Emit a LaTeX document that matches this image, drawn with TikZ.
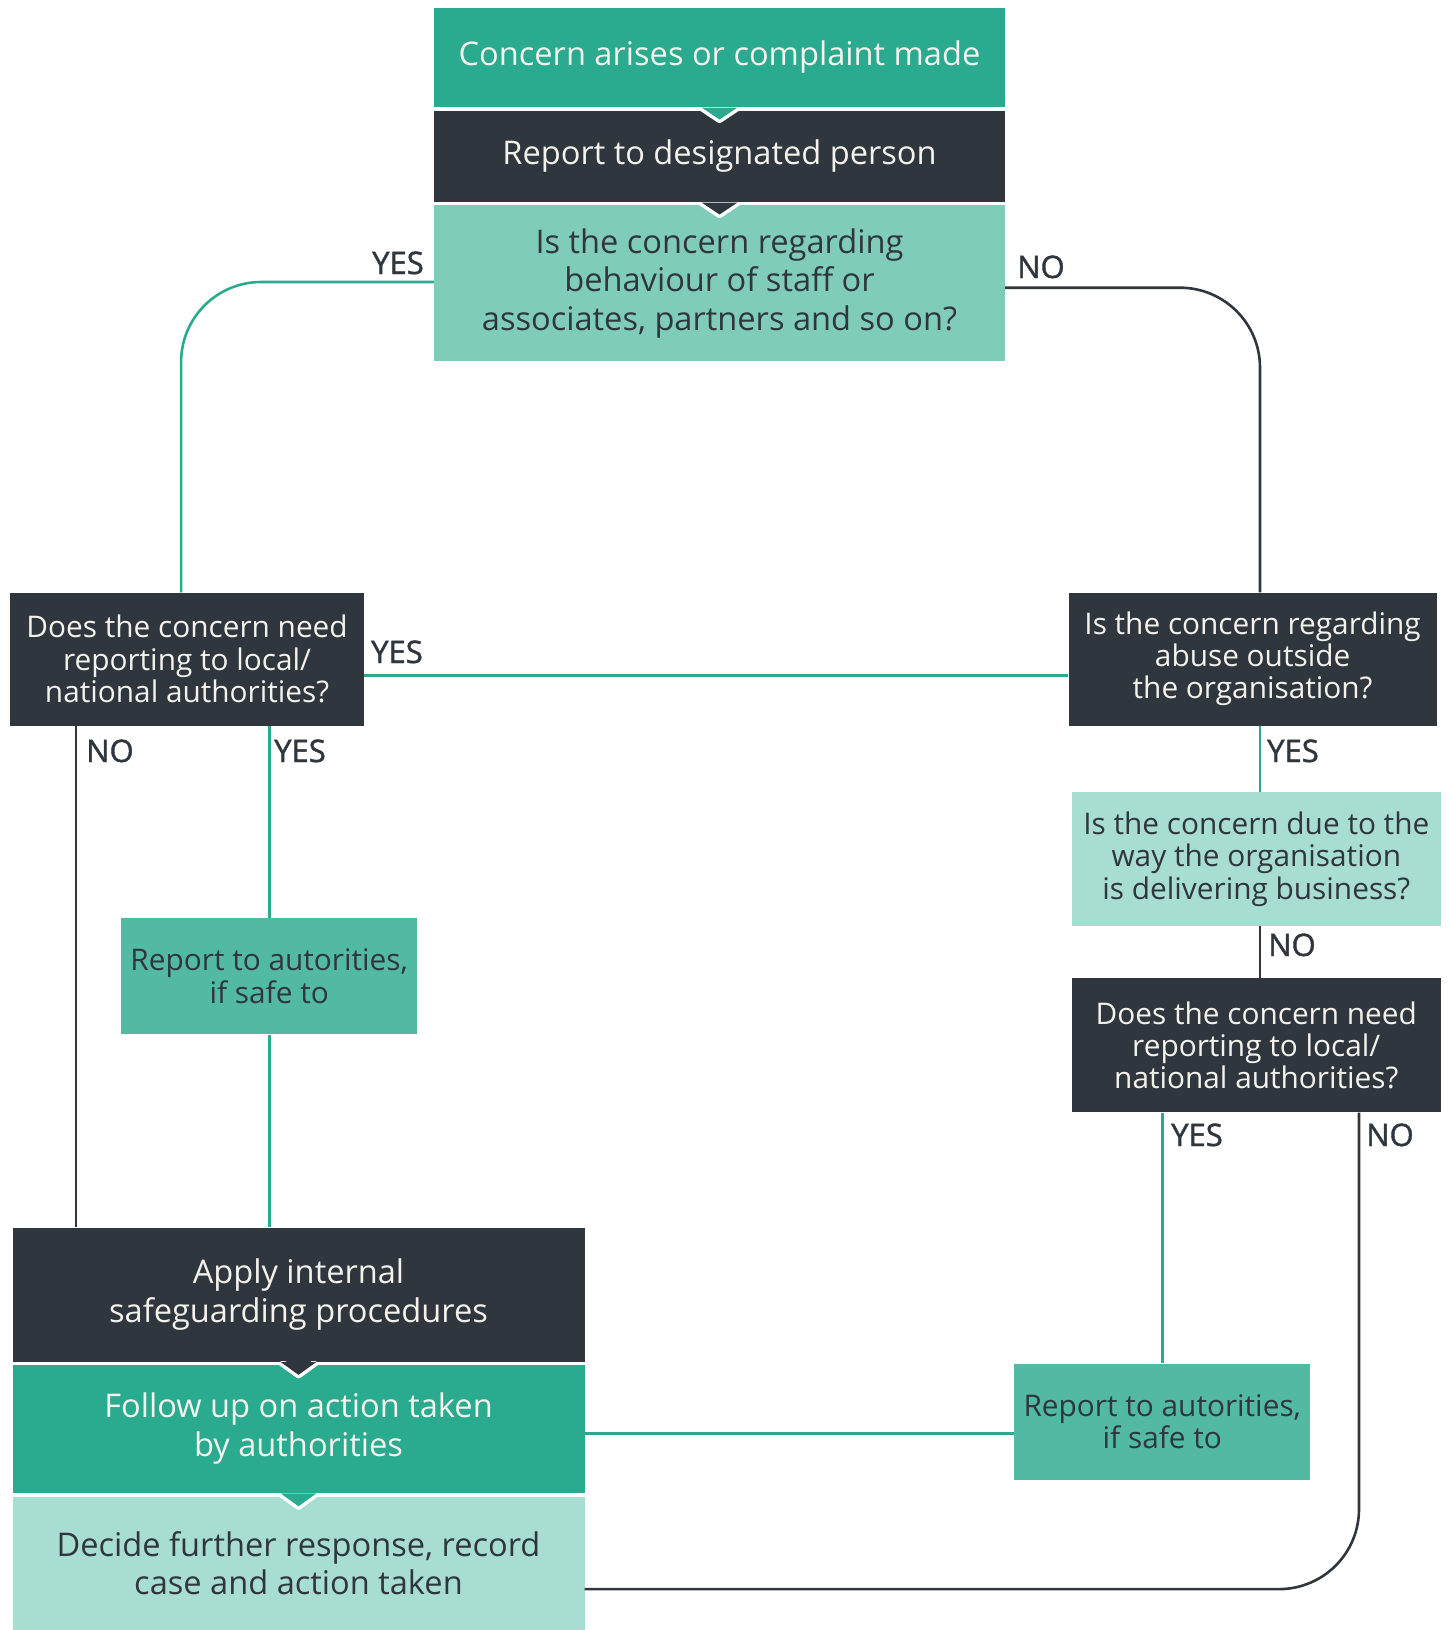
\documentclass[tikz,border=0pt]{standalone}
\usepackage{fontspec}
\setmainfont{Open Sans}
\newfontfamily\labelfont[FakeBold=1.4]{Open Sans}
\definecolor{cteal}{HTML}{2AAB8F}
\definecolor{cdark}{HTML}{30363D}
\definecolor{cmint}{HTML}{7FCDB9}
\definecolor{clight}{HTML}{A8DDD1}
\definecolor{cmid}{HTML}{52B9A2}
\definecolor{ctext}{HTML}{F4F2EC}
\begin{document}
\begin{tikzpicture}[x=1pt,y=-1pt,
  boxbase/.style={rectangle, inner sep=0pt, align=center},
  bigtxt/.style={boxbase, font=\fontsize{32.6}{38.6}\selectfont},
  smalltxt/.style={boxbase, font=\fontsize{29.8}{32.2}\selectfont},
  tealline/.style={draw=cteal, line width=2.6pt},
  darkline/.style={draw=cdark, line width=2.6pt},
  lab/.style={inner sep=0pt, text=cdark, font=\labelfont\fontsize{31}{36}\selectfont},
  gapline/.style={draw=white, line width=7pt, line join=round}
]
\useasboundingbox (0,0) rectangle (1448,1630);

% top stack
\node[bigtxt, fill=cteal, text=ctext, minimum width=571pt, minimum height=99.8pt] (box1) at (719.5,57.4) {Concern arises or complaint made};
\node[bigtxt, fill=cdark, text=ctext, minimum width=571pt, minimum height=91.6pt] (box2) at (719.5,156.5) {Report to designated person};
\node[bigtxt, fill=cmint, text=cdark, minimum width=571pt, minimum height=155.5pt] (box3) at (719.5,283.2) {Is the concern regarding\\behaviour of staff or\\associates, partners and so on?};

\begin{scope}
\clip (box1.south west) rectangle (box2.south east);
\draw[gapline] ([xshift=-18pt]box1.south) -- ([yshift=-12pt]box1.south) -- ([xshift=18pt]box1.south);
\fill[cteal] ([xshift=-18pt]box1.south) -- ([yshift=-12pt]box1.south) -- ([xshift=18pt]box1.south) -- cycle;
\end{scope}
\begin{scope}
\clip (box2.south west) rectangle (box3.south east);
\draw[gapline] ([xshift=-18pt]box2.south) -- ([yshift=-12pt]box2.south) -- ([xshift=18pt]box2.south);
\fill[cdark] ([xshift=-18pt]box2.south) -- ([yshift=-12pt]box2.south) -- ([xshift=18pt]box2.south) -- cycle;
\end{scope}

% decision boxes
\node[smalltxt, fill=cdark, text=ctext, minimum width=353.4pt, minimum height=133pt] (leftQ) at (187.1,659) {Does the concern need\\reporting to local/\\national authorities?};
\node[smalltxt, fill=cdark, text=ctext, minimum width=368pt, minimum height=133pt] (abuseQ) at (1252.6,659) {Is the concern regarding\\abuse outside\\the organisation?};
\node[smalltxt, fill=clight, text=cdark, minimum width=369pt, minimum height=134pt] (wayQ) at (1256.3,859.2) {Is the concern due to the\\way the organisation\\is delivering business?};
\node[smalltxt, fill=cdark, text=ctext, minimum width=369pt, minimum height=134pt] (needR) at (1256.3,1045.3) {Does the concern need\\reporting to local/\\national authorities?};
\node[smalltxt, fill=cmid, text=cdark, minimum width=296pt, minimum height=116.4pt] (repL) at (269.2,976.1) {Report to autorities,\\if safe to};
\node[smalltxt, fill=cmid, text=cdark, minimum width=296pt, minimum height=116.4pt] (repR) at (1162.3,1421.8) {Report to autorities,\\if safe to};

% bottom stack
\node[bigtxt, fill=cdark, text=ctext, minimum width=572pt, minimum height=134.1pt] (apply) at (298.5,1294.6) {Apply internal\\safeguarding procedures};
\node[bigtxt, fill=cteal, text=ctext, minimum width=572pt, minimum height=128.5pt] (follow) at (298.5,1428.8) {Follow up on action taken\\by authorities};
\node[bigtxt, fill=clight, text=cdark, minimum width=572pt, minimum height=133.5pt] (decide) at (298.5,1563.3) {Decide further response, record\\case and action taken};

\begin{scope}
\clip (apply.south west) rectangle (follow.south east);
\draw[gapline] ([xshift=-18pt]apply.south) -- ([yshift=-13pt]apply.south) -- ([xshift=18pt]apply.south);
\fill[cdark] ([xshift=-18pt]apply.south) -- ([yshift=-13pt]apply.south) -- ([xshift=18pt]apply.south) -- cycle;
\end{scope}
\begin{scope}
\clip (follow.south west) rectangle (decide.south east);
\draw[gapline] ([xshift=-18pt]follow.south) -- ([yshift=-13pt]follow.south) -- ([xshift=18pt]follow.south);
\fill[cteal] ([xshift=-18pt]follow.south) -- ([yshift=-13pt]follow.south) -- ([xshift=18pt]follow.south) -- cycle;
\end{scope}

% connectors
\draw[tealline, rounded corners=80pt] ([yshift=1.2pt]box3.west) -| ([xshift=-6pt]leftQ.north);
\draw[darkline, rounded corners=80pt] ([yshift=-4.5pt]box3.east) -| ([xshift=7.4pt]abuseQ.north);
\draw[tealline] ([yshift=-16.7pt]leftQ.east) -- ([yshift=-16.7pt]abuseQ.west);
\draw[darkline] ([xshift=-111pt]leftQ.south) -- ([xshift=-111pt]leftQ.south |- apply.north);
\draw[tealline] (repL.north |- leftQ.south) -- (repL.north);
\draw[tealline] (repL.south) -- (repL.south |- apply.north);
\draw[tealline] ([xshift=7.4pt]abuseQ.south) -- ([xshift=7.4pt]abuseQ.south |- wayQ.north);
\draw[darkline] ([xshift=3.7pt]wayQ.south) -- ([xshift=3.7pt]needR.north);
\draw[tealline] (repR.north |- needR.south) -- (repR.north);
\draw[darkline, rounded corners=80pt] ([xshift=102.7pt]needR.south) |- ([yshift=-25.8pt]decide.east);
\draw[tealline] ([yshift=-11.7pt]repR.west) -- ([yshift=-11.7pt]repR.west -| follow.east);

% labels
\node[lab, anchor=base east] (l1) at (424,274) {YES};
\node[lab, anchor=base west] (l2) at (1017,278) {NO};
\node[lab, anchor=base west] (l3) at (371,663) {YES};
\node[lab, anchor=base west] (l4) at (86,762) {NO};
\node[lab, anchor=base west] (l5) at (274,762) {YES};
\node[lab, anchor=base west] (l6) at (1267,762) {YES};
\node[lab, anchor=base west] (l7) at (1268,956) {NO};
\node[lab, anchor=base west] (l8) at (1171,1146) {YES};
\node[lab, anchor=base west] (l9) at (1366,1146) {NO};
\end{tikzpicture}
\end{document}
